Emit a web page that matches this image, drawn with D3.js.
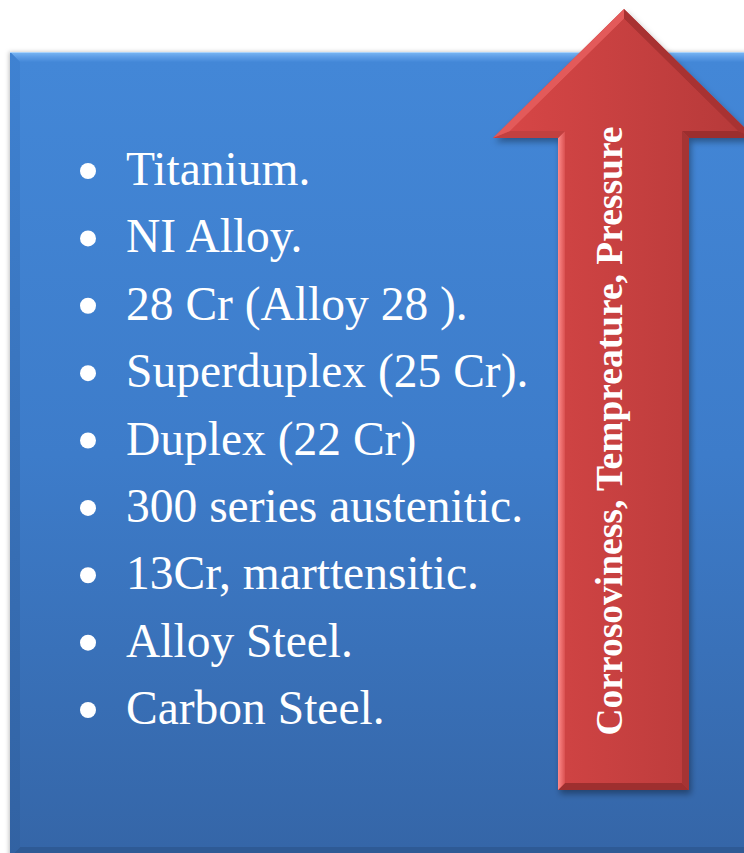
<!DOCTYPE html>
<html>
<head>
<meta charset="utf-8">
<script src="https://cdn.jsdelivr.net/npm/d3@7"></script>
<style>
  html, body { margin: 0; padding: 0; background: #ffffff; }
  svg { display: block; }
</style>
</head>
<body>
<div id="chart"></div>
<script>
// Materials, ordered from most to least resistant
const materials = [
  "Titanium.",
  "NI Alloy.",
  "28 Cr (Alloy 28 ).",
  "Superduplex (25 Cr).",
  "Duplex (22 Cr)",
  "300 series austenitic.",
  "13Cr, marttensitic.",
  "Alloy Steel.",
  "Carbon Steel."
];
const arrowLabel = ["Corrosoviness, Tempreature, Pressure"];

const W = 744, H = 853;
const svg = d3.select("#chart").append("svg")
  .attr("width", W).attr("height", H);
const defs = svg.append("defs");

// ---------- gradients & filters ----------
function linGrad(id, x1, y1, x2, y2, stops) {
  const g = defs.append("linearGradient").attr("id", id)
    .attr("x1", x1).attr("y1", y1).attr("x2", x2).attr("y2", y2);
  stops.forEach(([o, c]) => g.append("stop").attr("offset", o).attr("stop-color", c));
}
linGrad("boxFill", 0, 0, 0, 1, [[0, "#4387d7"], [0.5, "#3d7cca"], [1, "#3566a8"]]);
linGrad("boxTop", 0, 0, 0, 1, [[0, "#7bb8f5"], [0.5, "#5c9ce6"], [1, "#4488d8"]]);
linGrad("boxLeft", 0, 0, 0, 1, [[0, "#3f82d2"], [1, "#3262a2"]]);
linGrad("arrowFill", 0, 0, 1, 0, [[0, "#d64646"], [1, "#b73a3a"]]);
linGrad("bevelLight", 0, 0, 1, 0, [[0, "#ff8b8b"], [1, "#da5050"]]);

const shadow = defs.append("filter").attr("id", "shadow")
  .attr("x", "-10%").attr("y", "-10%").attr("width", "130%").attr("height", "130%");
shadow.append("feDropShadow").attr("dx", 2).attr("dy", 4).attr("stdDeviation", 3)
  .attr("flood-color", "#000").attr("flood-opacity", 0.35);

const boxShadow = defs.append("filter").attr("id", "boxShadow")
  .attr("x", "-5%").attr("y", "-5%").attr("width", "110%").attr("height", "110%");
boxShadow.append("feDropShadow").attr("dx", -1).attr("dy", 0).attr("stdDeviation", 2)
  .attr("flood-color", "#000").attr("flood-opacity", 0.25);

// ---------- bevel helper: inset a clockwise polygon and build edge facets ----------
function inset(pts, d) {
  const n = pts.length;
  const lines = pts.map((p, i) => {
    const q = pts[(i + 1) % n];
    const dx = q[0] - p[0], dy = q[1] - p[1];
    const len = Math.hypot(dx, dy);
    const nx = -dy / len, ny = dx / len;
    return { p: [p[0] + nx * d, p[1] + ny * d], v: [dx, dy] };
  });
  return pts.map((_, i) => {
    const a = lines[(i - 1 + n) % n], b = lines[i];
    const den = a.v[0] * b.v[1] - a.v[1] * b.v[0];
    const t = ((b.p[0] - a.p[0]) * b.v[1] - (b.p[1] - a.p[1]) * b.v[0]) / den;
    return [a.p[0] + a.v[0] * t, a.p[1] + a.v[1] * t];
  });
}
const line = d3.line();

// ---------- blue panel ----------
const box = { x0: 10, y0: 52, x1: 770, y1: 857 };
const boxPts = [[box.x0, box.y0], [box.x1, box.y0], [box.x1, box.y1], [box.x0, box.y1]];
const boxIn = inset(boxPts, 10);
const gBox = svg.append("g");
gBox.append("path").attr("d", line(boxPts) + "Z")
  .attr("fill", "url(#boxFill)").attr("filter", "url(#boxShadow)");
// facets: top, right, bottom, left
const boxFacetFill = ["url(#boxTop)", "#2f5e9e", "#2e5a95", "url(#boxLeft)"];
boxPts.forEach((p, i) => {
  const j = (i + 1) % 4;
  gBox.append("path")
    .attr("d", line([p, boxPts[j], boxIn[j], boxIn[i]]) + "Z")
    .attr("fill", boxFacetFill[i]);
});
gBox.append("path").attr("d", line([boxIn[0], boxIn[1], boxIn[2], boxIn[3]]) + "Z")
  .attr("fill", "url(#boxFill)");
gBox.append("line").attr("x1", box.x0).attr("x2", box.x1)
  .attr("y1", box.y0 + 0.5).attr("y2", box.y0 + 0.5)
  .attr("stroke", "#a9d2fb").attr("stroke-width", 1);

// ---------- bullet list ----------
const y = d3.scalePoint().domain(materials).range([185, 724]);
const items = svg.append("g").selectAll("g").data(materials).join("g")
  .attr("transform", d => `translate(0,${y(d)})`);
items.append("circle").attr("cx", 88).attr("cy", -14).attr("r", 8).attr("fill", "#ffffff");
items.append("text").attr("x", 126).attr("y", 0)
  .attr("font-family", "'Liberation Serif', 'Times New Roman', serif")
  .attr("font-size", 47.5).attr("fill", "#ffffff").text(d => d);

// ---------- arrow ----------
const A = { tipX: 624, tipY: 9, headY: 138, headL: 493, headR: 755, shaftL: 558, shaftR: 689, bottom: 790 };
const arrowPts = [
  [A.tipX, A.tipY], [A.headR, A.headY], [A.shaftR, A.headY], [A.shaftR, A.bottom],
  [A.shaftL, A.bottom], [A.shaftL, A.headY], [A.headL, A.headY]
];
const arrowIn = inset(arrowPts, 7);
const gArrow = svg.append("g");
gArrow.append("path").attr("d", line(arrowPts) + "Z")
  .attr("fill", "url(#arrowFill)").attr("filter", "url(#shadow)");
// facet colours per edge, starting at the tip going clockwise
const arrowFacet = ["#a83232", "#9c2e2e", "#a53434", "#9e2f2f", "url(#bevelLight)", "#c24040", "#e35a5a"];
arrowPts.forEach((p, i) => {
  const j = (i + 1) % arrowPts.length;
  gArrow.append("path")
    .attr("d", line([p, arrowPts[j], arrowIn[j], arrowIn[i]]) + "Z")
    .attr("fill", arrowFacet[i]);
});
gArrow.append("path").attr("d", line(arrowIn) + "Z").attr("fill", "url(#arrowFill)");

// rotated label, reading bottom to top
gArrow.selectAll("text.label").data(arrowLabel).join("text")
  .attr("class", "label")
  .attr("transform", `translate(622,431) rotate(-90)`)
  .attr("text-anchor", "middle")
  .attr("font-family", "'Liberation Serif', 'Times New Roman', serif")
  .attr("font-weight", "bold").attr("font-size", 37.5).attr("fill", "#ffffff")
  .text(d => d);
</script>
</body>
</html>
